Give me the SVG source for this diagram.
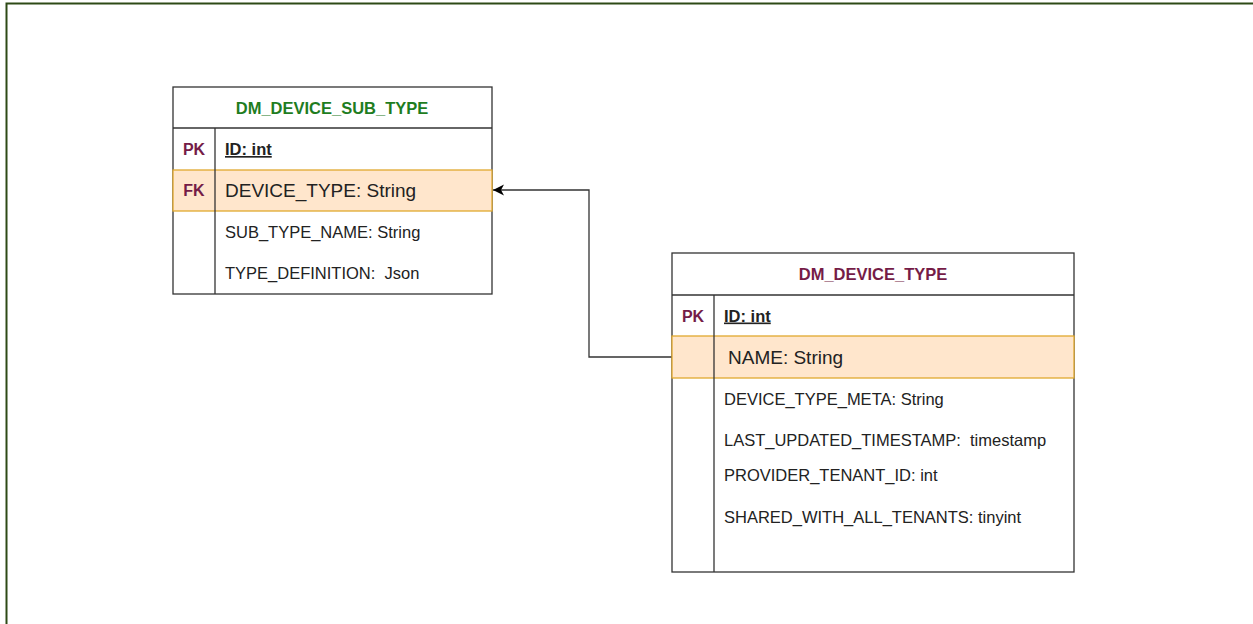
<svg xmlns="http://www.w3.org/2000/svg" width="1253" height="624" viewBox="0 0 1253 624">
<style>
.frame{fill:#fff;stroke:#2e4a16;stroke-width:2}
.box{fill:#fff;stroke:#333;stroke-width:1.3}
.hl{fill:#ffe6cc;stroke:#e0a92e;stroke-width:1.3}
.ln{stroke:#333;stroke-width:1.3;fill:none}
text{font-family:"Liberation Sans",Arial,sans-serif;fill:#222;white-space:pre}
.t{font-size:16.5px;font-weight:bold}
.g{fill:#1f7d1f}
.m{fill:#751c47}
.k{font-size:16px;font-weight:bold;fill:#751c47}
.id{font-size:16.5px;font-weight:bold;text-decoration:underline}
.big{font-size:19px}
.f{font-size:16.5px}
.conn{stroke:#333;stroke-width:1.3;fill:none}
</style>
<defs>
<marker id="arr" markerWidth="14" markerHeight="14" refX="12" refY="7" orient="auto" markerUnits="userSpaceOnUse">
<path d="M1,1.5 L12,7 L1,12.5 L4,7 Z" fill="#000"/>
</marker>
</defs>
<rect x="0" y="0" width="1253" height="624" fill="#fff"/>
<path d="M6.5,624 V3.5 H1253" fill="none" stroke="#2e4a16" stroke-width="2"/>

<g id="connectors">
<path class="conn" d="M672,357 H589 V190 H493" marker-end="url(#arr)"/>
</g>

<g id="dm_device_sub_type">
<rect class="box" x="173" y="87" width="319" height="207"/>
<line class="ln" x1="173" y1="128" x2="492" y2="128"/>
<rect class="hl" x="173" y="170" width="319" height="41"/>
<line class="ln" x1="215" y1="128" x2="215" y2="294"/>
<text class="t g" x="332" y="113.5" text-anchor="middle">DM_DEVICE_SUB_TYPE</text>
<text class="k" x="194" y="155" text-anchor="middle">PK</text>
<text class="id" x="225" y="155">ID: int</text>
<text class="k" x="194" y="196" text-anchor="middle">FK</text>
<text class="big" x="225" y="196.5">DEVICE_TYPE: String</text>
<text class="f" x="225" y="238" xml:space="preserve">SUB_TYPE_NAME: String</text>
<text class="f" x="225" y="279" xml:space="preserve">TYPE_DEFINITION:  Json</text>
</g>

<g id="dm_device_type">
<rect class="box" x="672" y="253" width="402" height="319"/>
<line class="ln" x1="672" y1="295" x2="1074" y2="295"/>
<rect class="hl" x="672" y="336" width="402" height="42"/>
<line class="ln" x1="714" y1="295" x2="714" y2="572"/>
<text class="t m" x="873" y="279.5" text-anchor="middle">DM_DEVICE_TYPE</text>
<text class="k" x="693" y="321.5" text-anchor="middle">PK</text>
<text class="id" x="724" y="321.5">ID: int</text>
<text class="big" x="728" y="363.5">NAME: String</text>
<text class="f" x="724" y="405">DEVICE_TYPE_META: String</text>
<text class="f" x="724" y="446" xml:space="preserve">LAST_UPDATED_TIMESTAMP:  timestamp</text>
<text class="f" x="724" y="481">PROVIDER_TENANT_ID: int</text>
<text class="f" x="724" y="523">SHARED_WITH_ALL_TENANTS: tinyint</text>
</g>
</svg>
